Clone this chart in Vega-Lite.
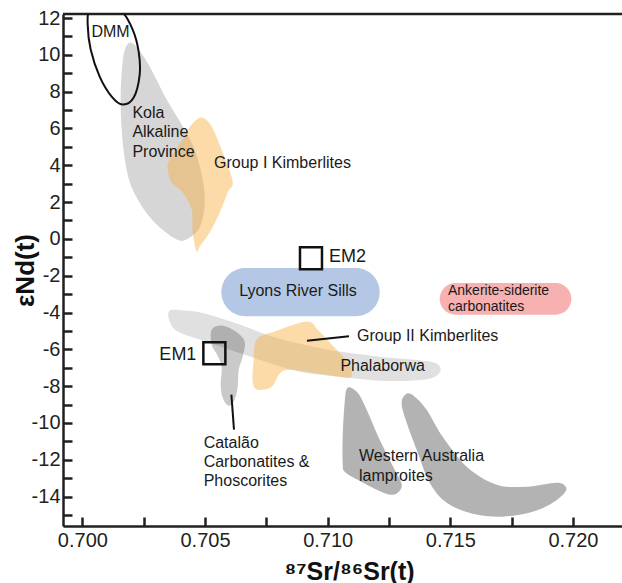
{
  "$schema": "https://vega.github.io/schema/vega-lite/v6.json",
  "width": 559,
  "height": 512,
  "autosize": {"type": "none"},
  "padding": {"left": 63, "top": 14, "right": 0, "bottom": 57},
  "background": "white",
  "config": {"view": {"stroke": null}, "font": "Liberation Sans"},
  "datasets": {
    "shapes": [
      {"name":"Kola","i":1,"sr":0.701969,"nd":10.668},{"name":"Kola","i":2,"sr":0.702295,"nd":10.288},{"name":"Kola","i":3,"sr":0.702744,"nd":9.364},{"name":"Kola","i":4,"sr":0.703437,"nd":7.570},{"name":"Kola","i":5,"sr":0.704048,"nd":6.212},{"name":"Kola","i":6,"sr":0.704578,"nd":4.853},{"name":"Kola","i":7,"sr":0.704905,"nd":3.222},{"name":"Kola","i":8,"sr":0.704986,"nd":1.864},{"name":"Kola","i":9,"sr":0.704782,"nd":0.614},{"name":"Kola","i":10,"sr":0.704375,"nd":0.070},{"name":"Kola","i":11,"sr":0.703967,"nd":-0.093},{"name":"Kola","i":12,"sr":0.703355,"nd":0.396},{"name":"Kola","i":13,"sr":0.702662,"nd":1.320},{"name":"Kola","i":14,"sr":0.702051,"nd":2.679},{"name":"Kola","i":15,"sr":0.701765,"nd":4.038},{"name":"Kola","i":16,"sr":0.701602,"nd":5.940},{"name":"Kola","i":17,"sr":0.701561,"nd":7.842},{"name":"Kola","i":18,"sr":0.701643,"nd":9.635},{"name":"Kola","i":19,"sr":0.701765,"nd":10.396},
      {"name":"GroupI","i":1,"sr":0.704864,"nd":6.592},{"name":"GroupI","i":2,"sr":0.705272,"nd":6.103},{"name":"GroupI","i":3,"sr":0.705720,"nd":4.690},{"name":"GroupI","i":4,"sr":0.706128,"nd":3.114},{"name":"GroupI","i":5,"sr":0.705924,"nd":2.516},{"name":"GroupI","i":6,"sr":0.705598,"nd":1.429},{"name":"GroupI","i":7,"sr":0.705190,"nd":0.342},{"name":"GroupI","i":8,"sr":0.704782,"nd":-0.419},{"name":"GroupI","i":9,"sr":0.704660,"nd":-0.691},{"name":"GroupI","i":10,"sr":0.704497,"nd":0.342},{"name":"GroupI","i":11,"sr":0.704456,"nd":1.592},{"name":"GroupI","i":12,"sr":0.704089,"nd":2.516},{"name":"GroupI","i":13,"sr":0.703641,"nd":3.059},{"name":"GroupI","i":14,"sr":0.703478,"nd":3.766},{"name":"GroupI","i":15,"sr":0.703559,"nd":4.309},{"name":"GroupI","i":16,"sr":0.704089,"nd":5.396},{"name":"GroupI","i":17,"sr":0.704456,"nd":6.212},
      {"name":"Phalaborwa","i":1,"sr":0.703559,"nd":-3.897},{"name":"Phalaborwa","i":2,"sr":0.704171,"nd":-3.897},{"name":"Phalaborwa","i":3,"sr":0.704986,"nd":-4.060},{"name":"Phalaborwa","i":4,"sr":0.706413,"nd":-4.658},{"name":"Phalaborwa","i":5,"sr":0.707636,"nd":-5.256},{"name":"Phalaborwa","i":6,"sr":0.708859,"nd":-5.691},{"name":"Phalaborwa","i":7,"sr":0.710490,"nd":-6.125},{"name":"Phalaborwa","i":8,"sr":0.712121,"nd":-6.397},{"name":"Phalaborwa","i":9,"sr":0.713548,"nd":-6.560},{"name":"Phalaborwa","i":10,"sr":0.714363,"nd":-6.723},{"name":"Phalaborwa","i":11,"sr":0.714608,"nd":-7.104},{"name":"Phalaborwa","i":12,"sr":0.714282,"nd":-7.538},{"name":"Phalaborwa","i":13,"sr":0.713344,"nd":-7.702},{"name":"Phalaborwa","i":14,"sr":0.712121,"nd":-7.702},{"name":"Phalaborwa","i":15,"sr":0.710490,"nd":-7.484},{"name":"Phalaborwa","i":16,"sr":0.708859,"nd":-7.212},{"name":"Phalaborwa","i":17,"sr":0.707229,"nd":-6.560},{"name":"Phalaborwa","i":18,"sr":0.706005,"nd":-6.017},{"name":"Phalaborwa","i":19,"sr":0.704782,"nd":-5.473},{"name":"Phalaborwa","i":20,"sr":0.703885,"nd":-5.038},{"name":"Phalaborwa","i":21,"sr":0.703559,"nd":-4.495},
      {"name":"Catalao","i":1,"sr":0.705272,"nd":-4.930},{"name":"Catalao","i":2,"sr":0.705679,"nd":-4.712},{"name":"Catalao","i":3,"sr":0.706250,"nd":-5.038},{"name":"Catalao","i":4,"sr":0.706617,"nd":-5.582},{"name":"Catalao","i":5,"sr":0.706535,"nd":-6.397},{"name":"Catalao","i":6,"sr":0.706372,"nd":-7.104},{"name":"Catalao","i":7,"sr":0.706331,"nd":-8.028},{"name":"Catalao","i":8,"sr":0.706209,"nd":-8.734},{"name":"Catalao","i":9,"sr":0.705965,"nd":-9.060},{"name":"Catalao","i":10,"sr":0.705720,"nd":-8.625},{"name":"Catalao","i":11,"sr":0.705638,"nd":-7.919},{"name":"Catalao","i":12,"sr":0.705679,"nd":-6.995},{"name":"Catalao","i":13,"sr":0.705516,"nd":-6.343},{"name":"Catalao","i":14,"sr":0.705272,"nd":-5.745},
      {"name":"GroupII","i":1,"sr":0.709145,"nd":-4.495},{"name":"GroupII","i":2,"sr":0.709593,"nd":-4.930},{"name":"GroupII","i":3,"sr":0.710205,"nd":-5.799},{"name":"GroupII","i":4,"sr":0.710735,"nd":-6.560},{"name":"GroupII","i":5,"sr":0.710979,"nd":-7.212},{"name":"GroupII","i":6,"sr":0.710816,"nd":-7.538},{"name":"GroupII","i":7,"sr":0.709675,"nd":-7.321},{"name":"GroupII","i":8,"sr":0.708452,"nd":-7.104},{"name":"GroupII","i":9,"sr":0.708044,"nd":-7.321},{"name":"GroupII","i":10,"sr":0.707718,"nd":-8.028},{"name":"GroupII","i":11,"sr":0.707147,"nd":-8.191},{"name":"GroupII","i":12,"sr":0.706943,"nd":-7.756},{"name":"GroupII","i":13,"sr":0.706984,"nd":-6.560},{"name":"GroupII","i":14,"sr":0.707106,"nd":-5.473},{"name":"GroupII","i":15,"sr":0.707840,"nd":-5.038},
      {"name":"WA1","i":1,"sr":0.710816,"nd":-8.082},{"name":"WA1","i":2,"sr":0.711224,"nd":-8.354},{"name":"WA1","i":3,"sr":0.711591,"nd":-9.278},{"name":"WA1","i":4,"sr":0.712121,"nd":-10.908},{"name":"WA1","i":5,"sr":0.712733,"nd":-12.538},{"name":"WA1","i":6,"sr":0.713018,"nd":-13.354},{"name":"WA1","i":7,"sr":0.712855,"nd":-13.788},{"name":"WA1","i":8,"sr":0.712529,"nd":-13.897},{"name":"WA1","i":9,"sr":0.711999,"nd":-13.625},{"name":"WA1","i":10,"sr":0.711224,"nd":-13.082},{"name":"WA1","i":11,"sr":0.710694,"nd":-12.647},{"name":"WA1","i":12,"sr":0.710613,"nd":-12.158},{"name":"WA1","i":13,"sr":0.710613,"nd":-10.745},{"name":"WA1","i":14,"sr":0.710694,"nd":-8.897},
      {"name":"WA2","i":1,"sr":0.713222,"nd":-8.408},{"name":"WA2","i":2,"sr":0.713548,"nd":-8.571},{"name":"WA2","i":3,"sr":0.714037,"nd":-9.278},{"name":"WA2","i":4,"sr":0.714690,"nd":-10.745},{"name":"WA2","i":5,"sr":0.715668,"nd":-12.375},{"name":"WA2","i":6,"sr":0.716891,"nd":-13.354},{"name":"WA2","i":7,"sr":0.718114,"nd":-13.462},{"name":"WA2","i":8,"sr":0.719337,"nd":-13.245},{"name":"WA2","i":9,"sr":0.719704,"nd":-13.462},{"name":"WA2","i":10,"sr":0.719663,"nd":-13.788},{"name":"WA2","i":11,"sr":0.719174,"nd":-14.332},{"name":"WA2","i":12,"sr":0.718359,"nd":-14.821},{"name":"WA2","i":13,"sr":0.717136,"nd":-15.093},{"name":"WA2","i":14,"sr":0.715913,"nd":-14.930},{"name":"WA2","i":15,"sr":0.714853,"nd":-14.332},{"name":"WA2","i":16,"sr":0.714160,"nd":-13.245},{"name":"WA2","i":17,"sr":0.713629,"nd":-11.452},{"name":"WA2","i":18,"sr":0.713140,"nd":-9.658},{"name":"WA2","i":19,"sr":0.713018,"nd":-8.843}
    ],
    "dmm": [
      {"i":1,"sr":0.700216,"nd":11.646},{"i":2,"sr":0.700338,"nd":10.288},{"i":3,"sr":0.700705,"nd":8.820},{"i":4,"sr":0.701195,"nd":7.733},{"i":5,"sr":0.701643,"nd":7.298},{"i":6,"sr":0.702092,"nd":7.679},{"i":7,"sr":0.702336,"nd":8.929},{"i":8,"sr":0.702295,"nd":10.179},{"i":9,"sr":0.702051,"nd":11.375},{"i":10,"sr":0.701602,"nd":12.353},{"i":11,"sr":0.700868,"nd":12.679},{"i":12,"sr":0.700298,"nd":12.462}
    ],
    "frame": [
      {"sr1": 0.69921, "sr2": 0.722, "nd": 12.22}
    ],
    "boxes": [
      {"name":"Lyons River Sills","sr1":0.705667,"sr2":0.712121,"nd1":-1.576,"nd2":-4.207},
      {"name":"Ankerite-siderite carbonatites","sr1":0.714567,"sr2":0.719937,"nd1":-2.392,"nd2":-4.115}
    ],
    "endmembers": [
      {"name":"EM1","sr":0.705381,"nd":-6.218},
      {"name":"EM2","sr":0.709320,"nd":-1.055}
    ],
    "leaders": [
      {"name":"Group II Kimberlites","sr1":0.709157,"nd1":-5.528,"sr2":0.710869,"nd2":-5.294},
      {"name":"Catalão","sr1":0.706075,"nd1":-8.462,"sr2":0.706181,"nd2":-10.365}
    ],
    "labels": [
      {"text":"DMM","sr":0.700367,"nd":11.25},
      {"text":"Kola","sr":0.702039,"nd":6.847},
      {"text":"Alkaline","sr":0.702039,"nd":5.793},
      {"text":"Province","sr":0.702039,"nd":4.706},
      {"text":"Group I Kimberlites","sr":0.705365,"nd":4.130},
      {"text":"Lyons River Sills","sr":0.708790,"nd":-2.810},
      {"text":"EM2","sr":0.710054,"nd":-0.979},
      {"text":"EM1","sr":0.704648,"nd":-6.288},
      {"text":"Ankerite-siderite\ncarbonatites","sr":0.714906,"nd":-2.816},
      {"text":"Group II Kimberlites","sr":0.711195,"nd":-5.256},
      {"text":"Phalaborwa","sr":0.710519,"nd":-6.886},
      {"text":"Catalão","sr":0.704945,"nd":-11.087},
      {"text":"Carbonatites &","sr":0.704945,"nd":-12.142},
      {"text":"Phoscorites","sr":0.704945,"nd":-13.174},
      {"text":"Western Australia","sr":0.711277,"nd":-11.816},
      {"text":"lamproites","sr":0.711277,"nd":-12.865}
    ]
  },
  "layer": [
    {
      "data": {"name": "shapes"},
      "transform": [{"filter": {"field": "name", "oneOf": ["Kola", "Phalaborwa", "WA1", "WA2"]}}],
      "mark": {"type": "line", "interpolate": "cardinal-closed", "clip": true, "stroke": "transparent", "strokeWidth": 0},
      "encoding": {
        "x": {"field": "sr", "type": "quantitative",
          "scale": {"domain": [0.69921, 0.722], "nice": false, "zero": false},
          "axis": {"title": "⁸⁷Sr/⁸⁶Sr(t)", "values": [0.7, 0.7025, 0.705, 0.7075, 0.71, 0.7125, 0.715, 0.7175, 0.72], "tickCount": 30,
            "labelExpr": "round(datum.value*10000) % 50 == 0 ? format(datum.value, '.3f') : ''",
            "grid": false, "tickSize": -9, "tickWidth": 2.5, "tickColor": "#231f20", "domainColor": "#231f20", "domainWidth": 2.5,
            "labelFontSize": 20, "labelFont": "Liberation Sans", "labelColor": "#231f20", "labelPadding": 13, "labelFlush": false, "labelOverlap": false, "labelBound": false,
            "titleFont": "Liberation Sans", "titleFontSize": 25, "titleFontWeight": "bold", "titleColor": "#111111", "titleX": 286, "titleY": 53, "titleBaseline": "alphabetic", "titleAlign": "center", "titleAnchor": null}},
        "y": {"field": "nd", "type": "quantitative",
          "scale": {"domain": [-15.6, 12.22], "nice": false, "zero": false},
          "axis": {"title": "εNd(t)", "values": [-15,-14,-13,-12,-11,-10,-9,-8,-7,-6,-5,-4,-3,-2,-1,0,1,2,3,4,5,6,7,8,9,10,11,12], "tickCount": 40,
            "labelExpr": "datum.value % 2 == 0 ? '' + datum.value : ''",
            "grid": false, "tickSize": -9, "tickWidth": 2.5, "tickColor": "#231f20", "domainColor": "#231f20", "domainWidth": 2.5,
            "labelFontSize": 20, "labelFont": "Liberation Sans", "labelColor": "#231f20", "labelPadding": 12, "labelOverlap": false, "labelBound": false,
            "titleFont": "Liberation Sans", "titleFontSize": 26, "titleFontWeight": "bold", "titleColor": "#111111", "titleX": -30, "titleY": 256, "titleAngle": 270, "titleBaseline": "alphabetic", "titleAlign": "center", "titleAnchor": null}},
        "order": {"field": "i", "type": "quantitative"},
        "fill": {"field": "name", "type": "nominal", "legend": null,
          "scale": {"domain": ["Kola", "Phalaborwa", "WA1", "WA2"],
                    "range": ["#d6d6d6", "#dfe0df", "#b3b3b3", "#b3b3b3"]}}
      }
    },
    {
      "data": {"name": "shapes"},
      "transform": [{"filter": {"field": "name", "oneOf": ["Catalao"]}}],
      "mark": {"type": "line", "interpolate": "cardinal-closed", "clip": true, "stroke": "transparent", "strokeWidth": 0, "fill": "#000000", "fillOpacity": 0.21},
      "encoding": {
        "x": {"field": "sr", "type": "quantitative"},
        "y": {"field": "nd", "type": "quantitative"},
        "order": {"field": "i", "type": "quantitative"},
        "detail": {"field": "name"}
      }
    },
    {
      "data": {"name": "shapes"},
      "transform": [{"filter": {"field": "name", "oneOf": ["GroupI", "GroupII"]}}],
      "mark": {"type": "line", "interpolate": "cardinal-closed", "clip": true, "stroke": "transparent", "strokeWidth": 0, "fill": "#f8af3e", "fillOpacity": 0.45},
      "encoding": {
        "x": {"field": "sr", "type": "quantitative"},
        "y": {"field": "nd", "type": "quantitative"},
        "order": {"field": "i", "type": "quantitative"},
        "detail": {"field": "name"}
      }
    },
    {
      "data": {"name": "boxes"},
      "transform": [{"filter": "datum.name == 'Lyons River Sills'"}],
      "mark": {"type": "rect", "color": "#b4c8e5", "cornerRadius": 24},
      "encoding": {
        "x": {"field": "sr1", "type": "quantitative"}, "x2": {"field": "sr2"},
        "y": {"field": "nd1", "type": "quantitative"}, "y2": {"field": "nd2"}
      }
    },
    {
      "data": {"name": "boxes"},
      "transform": [{"filter": "datum.name != 'Lyons River Sills'"}],
      "mark": {"type": "rect", "color": "#f6b1b0", "cornerRadius": 16},
      "encoding": {
        "x": {"field": "sr1", "type": "quantitative"}, "x2": {"field": "sr2"},
        "y": {"field": "nd1", "type": "quantitative"}, "y2": {"field": "nd2"}
      }
    },
    {
      "mark": {"type": "rule", "color": "#bdbdbd", "strokeWidth": 2, "strokeDash": [10, 6]},
      "encoding": {"x": {"datum": 0.70465, "type": "quantitative"}}
    },
    {
      "mark": {"type": "rule", "color": "#bdbdbd", "strokeWidth": 2, "strokeDash": [10, 6]},
      "encoding": {"y": {"datum": 0, "type": "quantitative"}}
    },
    {
      "data": {"name": "frame"},
      "mark": {"type": "rule", "color": "#231f20", "strokeWidth": 2.5},
      "encoding": {
        "x": {"field": "sr1", "type": "quantitative"}, "x2": {"field": "sr2"},
        "y": {"field": "nd", "type": "quantitative"}
      }
    },
    {
      "data": {"name": "dmm"},
      "mark": {"type": "line", "interpolate": "cardinal-closed", "clip": true, "color": "#111111", "strokeWidth": 2},
      "encoding": {
        "x": {"field": "sr", "type": "quantitative"},
        "y": {"field": "nd", "type": "quantitative"},
        "order": {"field": "i", "type": "quantitative"}
      }
    },
    {
      "data": {"name": "leaders"},
      "mark": {"type": "rule", "color": "#111111", "strokeWidth": 2},
      "encoding": {
        "x": {"field": "sr1", "type": "quantitative"}, "x2": {"field": "sr2"},
        "y": {"field": "nd1", "type": "quantitative"}, "y2": {"field": "nd2"}
      }
    },
    {
      "data": {"name": "endmembers"},
      "mark": {"type": "point", "shape": "square", "filled": false, "color": "#111111", "strokeWidth": 2.5, "size": 484, "opacity": 1},
      "encoding": {
        "x": {"field": "sr", "type": "quantitative"},
        "y": {"field": "nd", "type": "quantitative"}
      }
    },
    {
      "data": {"name": "labels"},
      "transform": [{"filter": {"not": {"field": "text", "oneOf": ["Lyons River Sills", "EM1", "EM2", "Ankerite-siderite\ncarbonatites"]}}}],
      "mark": {"type": "text", "align": "left", "baseline": "middle", "fontSize": 16, "font": "Liberation Sans", "color": "#1a1a1a"},
      "encoding": {
        "x": {"field": "sr", "type": "quantitative"},
        "y": {"field": "nd", "type": "quantitative"},
        "text": {"field": "text"}
      }
    },
    {
      "data": {"name": "labels"},
      "transform": [{"filter": {"field": "text", "oneOf": ["Ankerite-siderite\ncarbonatites"]}}],
      "mark": {"type": "text", "align": "left", "baseline": "middle", "fontSize": 14, "lineBreak": "\n", "lineHeight": 15.8, "font": "Liberation Sans", "color": "#1a1a1a"},
      "encoding": {
        "x": {"field": "sr", "type": "quantitative"},
        "y": {"field": "nd", "type": "quantitative"},
        "text": {"field": "text"}
      }
    },
    {
      "data": {"name": "labels"},
      "transform": [{"filter": {"field": "text", "oneOf": ["Lyons River Sills"]}}],
      "mark": {"type": "text", "align": "center", "baseline": "middle", "fontSize": 16, "font": "Liberation Sans", "color": "#1a1a1a"},
      "encoding": {
        "x": {"field": "sr", "type": "quantitative"},
        "y": {"field": "nd", "type": "quantitative"},
        "text": {"field": "text"}
      }
    },
    {
      "data": {"name": "labels"},
      "transform": [{"filter": {"field": "text", "oneOf": ["EM2"]}}],
      "mark": {"type": "text", "align": "left", "baseline": "middle", "fontSize": 18, "font": "Liberation Sans", "color": "#1a1a1a"},
      "encoding": {
        "x": {"field": "sr", "type": "quantitative"},
        "y": {"field": "nd", "type": "quantitative"},
        "text": {"field": "text"}
      }
    },
    {
      "data": {"name": "labels"},
      "transform": [{"filter": {"field": "text", "oneOf": ["EM1"]}}],
      "mark": {"type": "text", "align": "right", "baseline": "middle", "fontSize": 18, "font": "Liberation Sans", "color": "#1a1a1a"},
      "encoding": {
        "x": {"field": "sr", "type": "quantitative"},
        "y": {"field": "nd", "type": "quantitative"},
        "text": {"field": "text"}
      }
    }
  ]
}
